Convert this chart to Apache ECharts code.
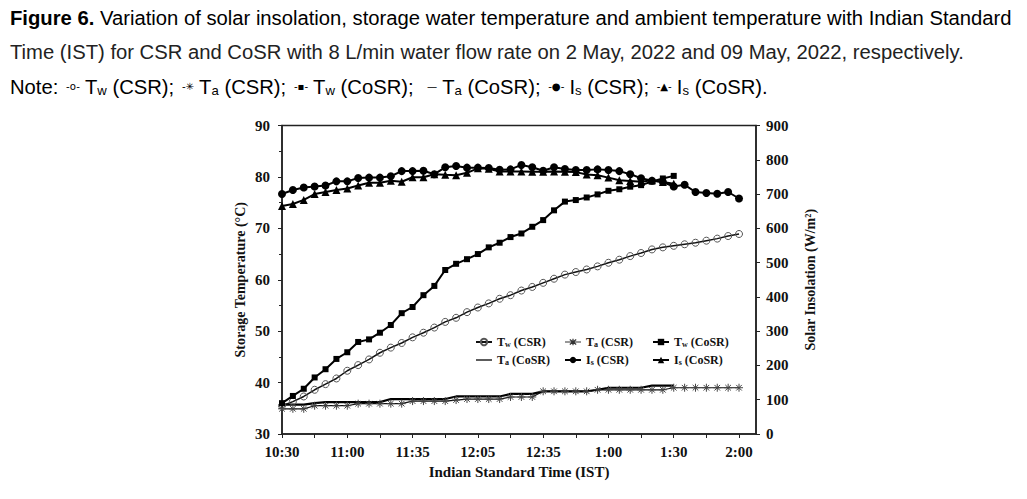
<!DOCTYPE html>
<html>
<head>
<meta charset="utf-8">
<script src="https://cdn.jsdelivr.net/npm/echarts@6/dist/echarts.min.js"></script>
<style>
html,body{margin:0;padding:0;background:#fff;}
#chart{width:1027px;height:499px;}
</style>
</head>
<body>
<div id="chart"></div>
<script>
// Times every 5 minutes (x positions are their indices)
var times = ["10:30","10:35","10:40","10:45","10:50","10:55","11:00","11:05","11:10","11:15","11:20","11:25","11:35","11:40","11:45","11:50","11:55","12:00","12:05","12:10","12:15","12:20","12:25","12:30","12:35","12:40","12:45","12:50","12:55","12:58","1:00","1:05","1:10","1:15","1:20","1:25","1:30","1:35","1:40","1:45","1:50","1:55","2:00"];
var tickLabels = ["10:30","11:00","11:35","12:05","12:35","1:00","1:30","2:00"];

var twCSR = [35.5,36.3,37.3,38.6,39.7,40.8,42.3,43.4,44.5,45.8,46.8,47.7,48.8,49.7,50.7,51.8,52.6,53.7,54.6,55.4,56.3,57.0,57.9,58.6,59.4,60.2,61.0,61.5,62.0,62.6,63.3,63.9,64.6,65.2,65.9,66.3,66.6,66.9,67.2,67.6,68.0,68.5,68.9];
var taCSR = [34.9,34.9,34.9,35.5,35.5,35.5,35.5,35.9,35.9,35.9,35.9,35.9,36.4,36.4,36.4,36.4,36.6,36.8,36.8,36.8,36.8,37.2,37.2,37.2,38.3,38.3,38.3,38.3,38.3,38.6,38.6,38.6,38.6,38.6,38.6,38.6,39.0,39.0,39.0,39.0,39.0,39.0,39.0];
var twCoSR = [36.0,37.4,38.8,41.0,42.6,44.6,45.9,47.9,48.4,49.7,51.2,53.5,54.7,57.0,58.8,61.9,63.1,64.0,65.0,66.3,67.2,68.3,69.0,70.3,71.6,73.5,75.2,75.5,76.0,76.6,77.3,77.6,78.1,78.4,79.1,79.7,80.2];
var taCoSR = [35.7,35.7,35.7,36.0,36.2,36.2,36.2,36.2,36.2,36.2,36.8,36.8,36.8,36.8,36.8,36.8,37.3,37.3,37.3,37.3,37.3,37.8,37.8,37.8,38.3,38.3,38.3,38.3,38.3,38.6,39.0,39.0,39.0,39.0,39.4,39.4,39.4];
var isCSR = [700,712,719,722,725,737,737,747,748,748,752,767,767,768,758,778,782,777,777,776,771,772,785,778,768,778,773,770,770,772,770,767,758,746,739,735,722,727,706,703,701,706,687];
var isCoSR = [665,671,683,700,706,712,716,725,733,733,739,736,749,749,758,756,755,762,775,774,766,766,766,765,765,766,765,764,757,755,748,740,738,736,740,735,730];

function pairs(arr){ return arr.map(function(v,i){ return [i, v]; }); }

var sans = 'Liberation Sans';
var serif = 'Liberation Serif';
var FS = 20;
var line1a = 'Figure 6.';
var line1b = ' Variation of solar insolation, storage water temperature and ambient temperature with Indian Standard';
var line2 = 'Time (IST) for CSR and CoSR with 8 L/min water flow rate on 2 May, 2022 and 09 May, 2022, respectively.';
// horizontal condensing so the caption spans the same width as the reference
var ctx = document.createElement('canvas').getContext('2d');
ctx.font = 'bold ' + FS + 'px "' + sans + '"';
var w1 = ctx.measureText(line1a).width;
ctx.font = FS + 'px "' + sans + '"';
w1 += ctx.measureText(line1b).width;
var sx = 1002 / w1;

var chart = echarts.init(document.getElementById('chart'), null, {renderer:'svg'});
var nameMap = {
  'Tw (CSR)': '{b|T}{s|w}{b| (CSR)}',
  'Ta (CSR)': '{b|T}{s|a}{b| (CSR)}',
  'Tw (CoSR)': '{b|T}{s|w}{b| (CoSR)}',
  'Ta (CoSR)': '{b|T}{s|a}{b| (CoSR)}',
  'Is (CSR)': '{b|I}{s|s}{b| (CSR)}',
  'Is (CoSR)': '{b|I}{s|s}{b| (CoSR)}'
};
var asterisk = 'path://M0,5L10,5M5,0L5,10M1.5,1.5L8.5,8.5M8.5,1.5L1.5,8.5';
var legendItems = {
  'Ta (CSR)': {icon:'path://M0,5L20,5M10,1L10,9M6,2L14,8M14,2L6,8', itemStyle:{color:'rgba(0,0,0,0)', borderColor:'#333', borderWidth:1.2}},
  'Ta (CoSR)': {icon:'path://M0,4.2L20,4.2L20,5.8L0,5.8Z'}
};
function legendCol(left, names){
  return {
    orient:'vertical', left:left, top:331, itemGap:6, itemWidth:16, itemHeight:8,
    data:names.map(function(n){ return Object.assign({name:n}, legendItems[n] || {}); }),
    selectedMode:false,
    formatter:function(n){ return nameMap[n]; },
    textStyle:{ rich:{
      b:{fontFamily:serif, fontWeight:'bold', fontSize:12, color:'#111'},
      s:{fontFamily:serif, fontWeight:'bold', fontSize:8, color:'#111', verticalAlign:'bottom', padding:[4,0,0,0]}
    }}
  };
}
var axisLabelStyle = {fontFamily:serif, fontWeight:'bold', fontSize:15, color:'#111'};
var noteRich = {
  n:{fontFamily:sans, fontSize:FS, color:'#222'},
  s:{fontFamily:sans, fontSize:13, color:'#222', verticalAlign:'bottom', padding:[6,0,0,0]},
  i:{fontFamily:'DejaVu Sans', fontSize:10, color:'#222', padding:[0,5,0,2]}
};

var option = {
  backgroundColor:'#fff',
  animation:false,
  graphic:[
    {type:'text', x:10, y:8, scaleX:sx, style:{
      text:'{f|' + line1a + '}{n|' + line1b + '}',
      rich:{f:{fontFamily:sans, fontWeight:'bold', fontSize:FS, color:'#333'},
            n:{fontFamily:sans, fontSize:FS, color:'#222'}}}},
    {type:'text', x:10, y:42, scaleX:sx, style:{
      text:line2, font:FS + 'px "' + sans + '"', fill:'#222'}},
    {type:'text', x:10, y:77, scaleX:sx, style:{
      text:'{n|Note: }{i|-o-}{n|T}{s|w}{n| (CSR); }{i|-✳}{n|T}{s|a}{n| (CSR); }{i|-▪-}{n|T}{s|w}{n| (CoSR);  }{i|—}{n|T}{s|a}{n| (CoSR); }{i|-●-}{n|I}{s|s}{n| (CSR); }{i|-▲-}{n|I}{s|s}{n| (CoSR).}',
      rich:noteRich}}
  ],
  legend:[
    legendCol(470, ['Tw (CSR)','Ta (CoSR)']),
    legendCol(559, ['Ta (CSR)','Is (CSR)']),
    legendCol(647, ['Tw (CoSR)','Is (CoSR)'])
  ],
  grid:{left:282, top:125.5, right:271, bottom:65, show:true, borderColor:'#222', borderWidth:1.5},
  xAxis:{
    type:'value', min:0, max:43.56, interval:3,
    axisLine:{lineStyle:{color:'#222', width:1.5}},
    axisTick:{show:true, length:4, lineStyle:{color:'#222'}},
    splitLine:{show:false},
    axisLabel:Object.assign({margin:10, showMaxLabel:false, formatter:function(v){
      if (Math.abs(v - Math.round(v)) > 1e-6) return '';
      var i = Math.round(v);
      return (i % 6 === 0 && i/6 < tickLabels.length) ? tickLabels[i/6] : '';
    }}, axisLabelStyle),
    name:'Indian Standard Time (IST)', nameLocation:'middle', nameGap:30,
    nameTextStyle:{fontFamily:serif, fontWeight:'bold', fontSize:15, color:'#111'}
  },
  yAxis:[
    {type:'value', min:30, max:90, interval:10, position:'left',
     axisLine:{show:true, lineStyle:{color:'#222', width:1.5}},
     axisTick:{show:true, length:4, lineStyle:{color:'#222'}},
     minorTick:{show:true, splitNumber:2, length:3, lineStyle:{color:'#222'}},
     splitLine:{show:false},
     axisLabel:Object.assign({margin:12}, axisLabelStyle),
     name:'Storage Temperature (°C)', nameLocation:'middle', nameGap:35, nameRotate:90,
     nameTextStyle:{fontFamily:serif, fontWeight:'bold', fontSize:14, color:'#111'}},
    {type:'value', min:0, max:900, interval:100, position:'right',
     axisLine:{show:true, lineStyle:{color:'#222', width:1.5}},
     axisTick:{show:true, length:4, lineStyle:{color:'#222'}},
     splitLine:{show:false},
     axisLabel:Object.assign({margin:10}, axisLabelStyle),
     name:'Solar Insolation (W/m²)', nameLocation:'middle', nameGap:47, nameRotate:90,
     nameTextStyle:{fontFamily:serif, fontWeight:'bold', fontSize:14, color:'#111'}}
  ],
  series:[
    {name:'Tw (CSR)', type:'line', data:pairs(twCSR), symbol:'circle', symbolSize:7,
     lineStyle:{color:'#111', width:1.5}, itemStyle:{color:'rgba(255,255,255,0)', borderColor:'#555', borderWidth:1}, z:3},
    {name:'Ta (CSR)', type:'line', data:pairs(taCSR), symbol:asterisk, symbolSize:8,
     lineStyle:{color:'#111', width:1.2}, itemStyle:{color:'#444', borderColor:'#444', borderWidth:1}, z:2},
    {name:'Tw (CoSR)', type:'line', data:pairs(twCoSR), symbol:'rect', symbolSize:6,
     lineStyle:{color:'#000', width:2}, itemStyle:{color:'#000'}, z:4},
    {name:'Ta (CoSR)', type:'line', data:pairs(taCoSR), symbol:'none', showSymbol:false,
     lineStyle:{color:'#000', width:2.2}, itemStyle:{color:'#000'}, z:2},
    {name:'Is (CSR)', type:'line', yAxisIndex:1, data:pairs(isCSR), symbol:'circle', symbolSize:8,
     lineStyle:{color:'#000', width:2}, itemStyle:{color:'#000'}, z:4},
    {name:'Is (CoSR)', type:'line', yAxisIndex:1, data:pairs(isCoSR), symbol:'triangle', symbolSize:8,
     lineStyle:{color:'#000', width:2}, itemStyle:{color:'#000'}, z:4}
  ]
};
chart.setOption(option);
</script>
</body>
</html>
